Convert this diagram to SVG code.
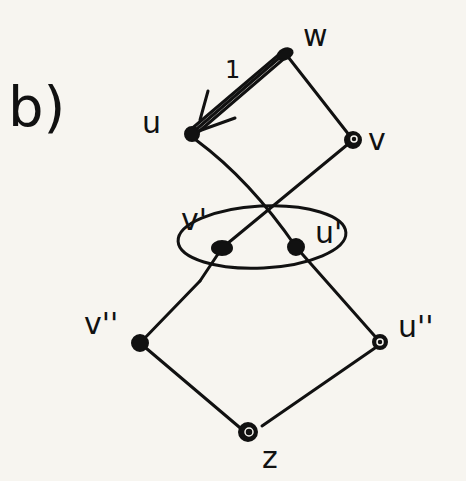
<svg xmlns="http://www.w3.org/2000/svg" width="466" height="481" viewBox="0 0 466 481">
<style>
.e{fill:none;stroke:#111;stroke-width:3;stroke-linecap:round;stroke-linejoin:round}
.n{fill:#111;stroke:#111;stroke-width:2}
.h{fill:none;stroke:#f7f5f0;stroke-width:1.5}
.t{font-family:"DejaVu Sans","Liberation Sans",sans-serif;fill:#111;font-size:30px}
</style>
<rect width="466" height="481" fill="#f7f5f0"/>
<text class="t" x="8" y="126" style="font-size:56px">b)</text>
<g id="connectors">
<path class="e" d="M285 53 L192 133"/>
<path class="e" d="M282 52 L189 131"/>
<path class="e" d="M287 56 L196 134"/>
<path class="e" d="M208 91 L200 120 M235 118 L196 132"/>
<path class="e" d="M285 53 L353 140"/>
<path class="e" d="M196 140 Q250 180 296 247"/>
<path class="e" d="M353 140 L222 248 L200 281"/>
<path class="e" d="M200 281 L140 343"/>
<path class="e" d="M296 247 L380 342"/>
<path class="e" d="M140 343 L245 432"/>
<path class="e" d="M262 426 L375 348"/>
<ellipse class="e" cx="262" cy="237" rx="84" ry="31" transform="rotate(-3 262 237)"/>
</g>
<g id="w"><ellipse class="n" cx="285" cy="54" rx="8" ry="5" transform="rotate(-25 285 54)"/><text class="t" x="303" y="46">w</text></g>
<g id="u"><circle class="n" cx="192" cy="134" r="7"/><text class="t" x="142" y="133">u</text></g>
<g id="edge1"><text class="t" x="225" y="78" style="font-size:24px">1</text></g>
<g id="v"><circle class="n" cx="353" cy="140" r="8"/><circle class="h" cx="354" cy="139" r="3"/><text class="t" x="368" y="150">v</text></g>
<g id="vp"><ellipse class="n" cx="222" cy="248" rx="10" ry="7"/><text class="t" x="181" y="230">v'</text></g>
<g id="up"><circle class="n" cx="296" cy="247" r="8"/><text class="t" x="315" y="243">u'</text></g>
<g id="vpp"><circle class="n" cx="140" cy="343" r="8"/><text class="t" x="84" y="334">v''</text></g>
<g id="upp"><circle class="n" cx="380" cy="342" r="7"/><circle class="h" cx="380" cy="342" r="3"/><text class="t" x="398" y="337">u''</text></g>
<g id="z"><circle class="n" cx="248" cy="432" r="9"/><circle class="h" cx="249" cy="432" r="4"/><text class="t" x="262" y="468">z</text></g>
</svg>
